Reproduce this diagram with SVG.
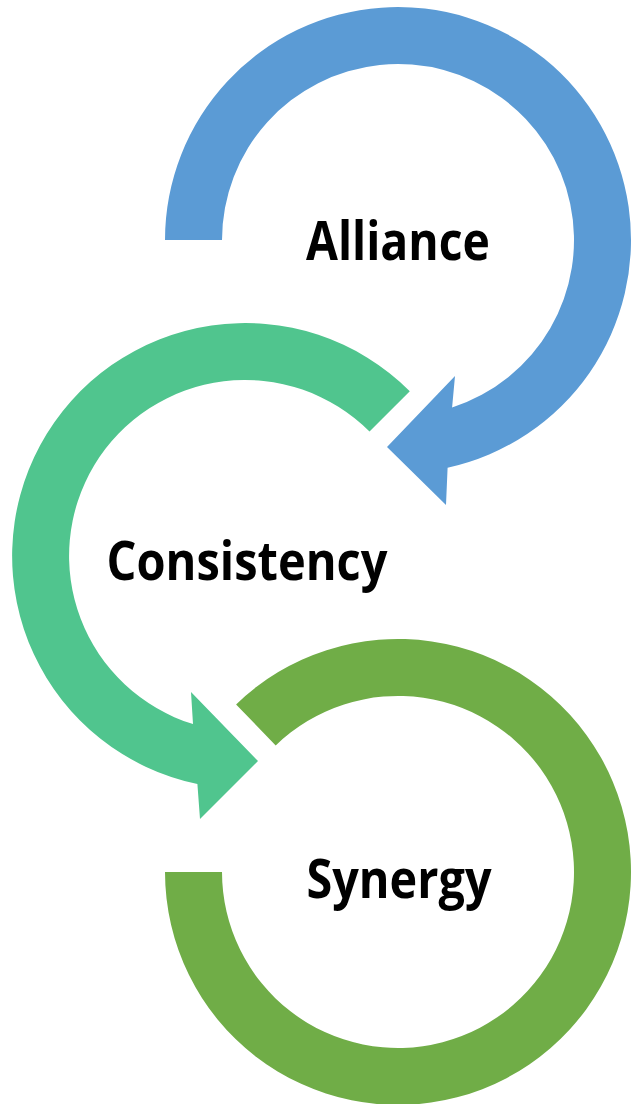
<svg xmlns="http://www.w3.org/2000/svg" width="633" height="1104" viewBox="0 0 633 1104">
<style>
.lbl{font-family:"Open Sans","Liberation Sans",sans-serif;font-weight:700;font-size:54px;fill:#000;text-anchor:middle}
</style>
<rect width="633" height="1104" fill="#fff"/>
<g id="connectors"></g>
<g id="alliance">
<path fill="#5B9BD5" d="M165,240 A233,233 0 1 1 447.6,467.7 L446,505 L387,447 L455,376 L452.1,407.5 A176,176 0 1 0 222,240 Z"/>
<text class="lbl" x="398" y="260" textLength="184" lengthAdjust="spacingAndGlyphs">Alliance</text>
</g>
<g id="consistency">
<path fill="#50C58E" d="M409.8,391.2 A233,233 0 1 0 197.4,784.1 L200,819 L258,761 L191,692 L193,724.1 A176,176 0 1 1 369.5,431.5 Z"/>
<text class="lbl" x="247" y="580" textLength="281" lengthAdjust="spacingAndGlyphs">Consistency</text>
</g>
<g id="synergy">
<path fill="#70AD47" d="M165,872 A233,233 0 1 0 236.1,704.4 L275.7,745.4 A176,176 0 1 1 222,872 Z"/>
<text class="lbl" x="399" y="898" textLength="185" lengthAdjust="spacingAndGlyphs">Synergy</text>
</g>
</svg>
